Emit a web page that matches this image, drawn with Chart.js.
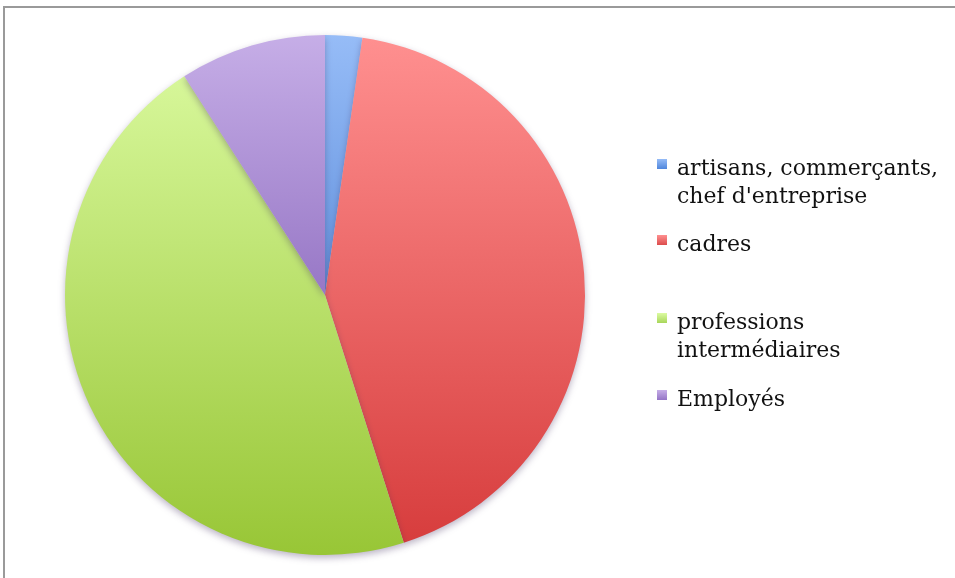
<!DOCTYPE html>
<html lang="fr">
<head>
<meta charset="utf-8">
<script src="https://cdn.jsdelivr.net/npm/chart.js@4/dist/chart.umd.min.js"></script>
<style>
  html, body { margin: 0; padding: 0; background: #fff; }
  #wrap { position: relative; width: 955px; height: 578px; overflow: hidden; }
  #frame { position: absolute; left: 3px; top: 6px; width: 1000px; height: 700px;
           border-left: 2px solid #9a9a9a; border-top: 2px solid #9a9a9a; box-sizing: border-box; }
  #c { position: absolute; left: 0; top: 0; }
  #legend { position: absolute; left: 657px; top: 0; margin: 0; padding: 0; list-style: none;
            font-family: "DejaVu Serif", serif; font-size: 22px; color: #111; }
  #legend li { position: absolute; left: 0; white-space: nowrap; }
  #legend .sw { position: absolute; left: 0; top: 5px; width: 10px; height: 10px; }
  #legend .tx { position: absolute; left: 20px; top: 0; line-height: 28px; }
</style>
</head>
<body>
<div id="wrap">
  <div id="frame"></div>
  <canvas id="c" width="955" height="578"></canvas>
  <ul id="legend"></ul>
</div>
<script>
// Répartition par catégorie socio-professionnelle (%)
const categories = [
  "artisans, commerçants,\nchef d'entreprise",
  "cadres",
  "professions\nintermédiaires",
  "Employés"
];
const shares = [2.3, 42.8, 45.8, 9.1];

// light (top) / dark (bottom) tones of each slice
const topTones = ["#96bcf7", "#ff9090", "#dcfba2", "#c6aee7"];
const bottomTones = ["#2f67c4", "#d63b3b", "#98c636", "#6840a4"];
const swatchTones = ["#4f86dc", "#dc4c4c", "#a8d65a", "#9474c6"];
const legendTops = [154, 230, 308, 385];

// vertical gradient spanning the whole pie
function sliceFill(ctx) {
  const i = ctx.dataIndex;
  const chart = ctx.chart;
  const area = chart.chartArea;
  if (!area || i === undefined) return swatchTones[i || 0];
  const g = chart.ctx.createLinearGradient(0, area.top, 0, area.bottom);
  g.addColorStop(0, topTones[i]);
  g.addColorStop(1, bottomTones[i]);
  return g;
}

// soft drop shadow beneath the pie
const pieShadow = {
  id: 'pieShadow',
  beforeDatasetsDraw(chart) {
    const c = chart.ctx;
    c.save();
    c.shadowColor = 'rgba(60,40,90,0.35)';
    c.shadowBlur = 7;
    c.shadowOffsetY = 3;
  },
  afterDatasetsDraw(chart) { chart.ctx.restore(); }
};

new Chart(document.getElementById('c'), {
  type: 'pie',
  data: {
    labels: categories.map(s => s.replace('\n', ' ')),
    datasets: [{
      data: shares,
      backgroundColor: sliceFill,
      hoverBackgroundColor: sliceFill,
      borderWidth: 0
    }]
  },
  options: {
    responsive: false,
    animation: false,
    layout: { padding: { left: 65, right: 370, top: 35, bottom: 23 } },
    plugins: { legend: { display: false }, tooltip: { enabled: false } }
  },
  plugins: [pieShadow]
});

// legend
const ul = document.getElementById('legend');
categories.forEach((name, i) => {
  const li = document.createElement('li');
  li.style.top = legendTops[i] + 'px';
  const sw = document.createElement('span');
  sw.className = 'sw';
  sw.style.background = `linear-gradient(${topTones[i]}, ${swatchTones[i]})`;
  const tx = document.createElement('span');
  tx.className = 'tx';
  name.split('\n').forEach((line, k) => {
    if (k) tx.appendChild(document.createElement('br'));
    tx.appendChild(document.createTextNode(line));
  });
  li.appendChild(sw);
  li.appendChild(tx);
  ul.appendChild(li);
});
</script>
</body>
</html>
